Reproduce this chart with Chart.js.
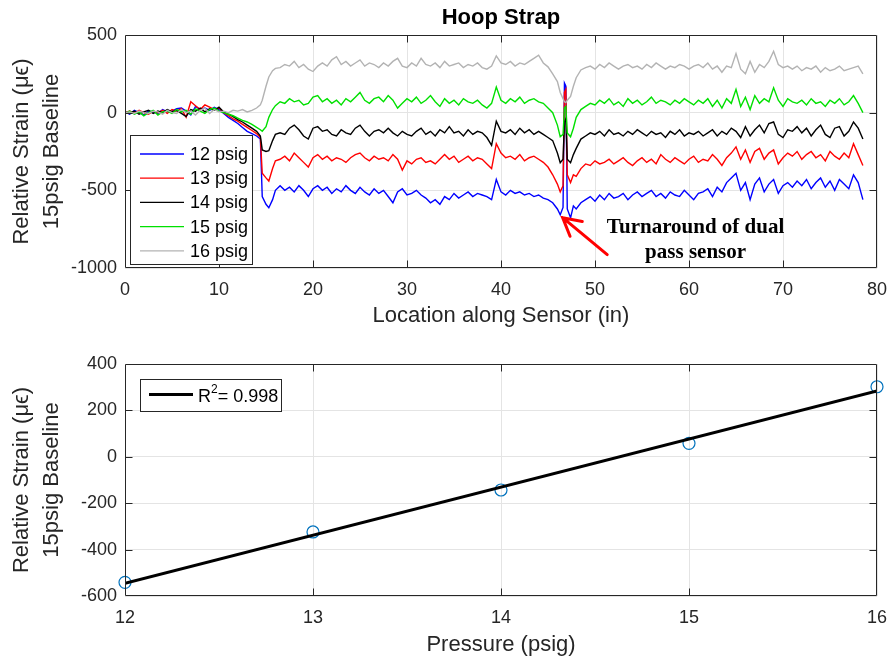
<!DOCTYPE html>
<html><head><meta charset="utf-8">
<script src="https://cdn.jsdelivr.net/npm/chart.js@4/dist/chart.umd.min.js"></script>
<style>
html,body{margin:0;padding:0;background:#fff;width:891px;height:659px;overflow:hidden;}
#c1{position:absolute;left:0;top:0;}
#c2{position:absolute;left:0;top:330px;}
</style></head><body>
<canvas id="c1" width="891" height="330"></canvas>
<canvas id="c2" width="891" height="329"></canvas>
<script>
// ---------------- DATA ----------------
const chartTitle = 'Hoop Strap';
const seriesNames = ['12 psig', '13 psig', '14 psig', '15 psig', '16 psig'];

// location along sensor (in)
const sensorLocation = [
  0,0.5,1,1.5,2,2.5,3,3.5,4,4.5,5,5.5,6,6.5,7,7.5,8,8.5,9,9.5,10,10.5,11,11.5,12,12.5,13,13.5,14,
  14.4,14.6,15,15.3,15.7,16,
  16.5,17,17.5,18,18.5,19,19.5,20,20.5,21,
  21.5,22,22.5,23,23.5,24,24.5,25,25.5,26,
  26.5,27,27.5,28,28.5,29,29.5,30,30.5,31,
  31.5,32,32.5,33,33.5,34,34.5,35,35.5,36,
  36.5,37,37.5,38,38.5,39,39.5,40,40.5,41,
  41.5,42,42.5,43,43.5,44,44.5,45,45.5,46,
  46.3,46.6,46.75,46.9,47.05,47.4,47.7,
  48,48.5,49,49.5,50,50.5,51,51.5,52,52.5,
  53,53.5,54,54.5,55,55.5,56,56.5,57,57.5,
  58,58.5,59,59.5,60,60.5,61,61.5,62,62.5,
  63,63.5,64,64.5,65,65.5,66,66.5,67,67.5,
  68,68.5,69,69.5,70,70.5,71,71.5,72,72.5,
  73,73.5,74,74.5,75,75.5,76,76.5,77,77.5,
  78,78.5
];

const strain12 = [
  5,-10,15,0,-15,10,5,-5,20,5,10,25,30,10,-15,40,20,30,15,35,20,-5,-30,-50,-70,-95,-120,-135,-150,
  -170,-540,-590,-612,-560,-500,
  -470,-500,-480,-510,-470,-500,-540,-490,-470,-500,
  -480,-520,-490,-510,-470,-500,-520,-480,-510,-530,
  -490,-520,-500,-540,-580,-510,-490,-530,-520,-500,
  -530,-550,-580,-560,-590,-540,-560,-520,-550,-530,
  -510,-540,-520,-530,-540,-560,-430,-510,-530,-500,
  -520,-510,-530,-520,-540,-530,-550,-560,-580,-620,
  -657,-610,190,170,-620,-677,-600,
  -620,-580,-560,-540,-570,-530,-560,-520,-550,-540,
  -520,-560,-530,-510,-540,-520,-500,-540,-520,-550,
  -510,-530,-540,-500,-530,-560,-520,-510,-490,-540,
  -480,-510,-450,-420,-390,-500,-450,-560,-460,-420,
  -510,-460,-430,-520,-470,-450,-480,-440,-470,-430,
  -490,-450,-420,-480,-440,-500,-430,-460,-490,-400,
  -450,-560
];

const strain13 = [
  0,10,-5,15,0,-10,10,0,15,-5,20,10,25,-30,70,45,20,50,35,20,30,0,-20,-40,-55,-75,-95,-115,-135,
  -160,-390,-420,-440,-360,-310,
  -300,-280,-310,-260,-290,-320,-350,-290,-270,-300,
  -280,-310,-290,-300,-320,-290,-270,-260,-290,-310,
  -280,-300,-290,-310,-270,-300,-370,-310,-330,-300,
  -290,-320,-310,-330,-300,-270,-300,-280,-320,-300,
  -280,-310,-290,-300,-330,-360,-200,-260,-290,-280,
  -300,-270,-310,-290,-280,-300,-320,-350,-400,-460,
  -510,-470,130,150,-400,-450,-400,
  -410,-360,-330,-340,-310,-330,-320,-300,-330,-310,
  -290,-320,-340,-310,-290,-320,-300,-330,-270,-300,
  -320,-290,-310,-330,-300,-280,-320,-300,-310,-270,
  -300,-340,-290,-260,-220,-300,-240,-320,-250,-230,
  -300,-260,-240,-330,-290,-260,-280,-250,-300,-270,
  -250,-290,-270,-310,-250,-280,-300,-260,-290,-200,
  -270,-340
];

const strain14 = [
  5,-5,10,-10,5,15,-5,10,0,20,5,15,-5,-25,20,10,30,5,25,15,35,5,-10,-25,-45,-60,-80,-100,-120,
  -150,-240,-250,-245,-180,-140,
  -130,-140,-100,-80,-110,-150,-170,-100,-90,-120,
  -110,-140,-150,-110,-130,-140,-100,-80,-120,-150,
  -120,-110,-130,-100,-130,-150,-120,-140,-150,-120,
  -100,-140,-120,-150,-110,-130,-90,-130,-120,-150,
  -110,-140,-120,-130,-160,-210,-55,-120,-130,-110,
  -140,-100,-130,-110,-140,-120,-140,-160,-180,-260,
  -322,-300,-60,-40,-300,-322,-270,
  -230,-170,-150,-130,-140,-120,-150,-110,-140,-130,
  -150,-120,-140,-110,-130,-150,-120,-140,-130,-160,
  -120,-140,-110,-150,-130,-140,-120,-150,-130,-110,
  -150,-120,-140,-100,-120,-160,-90,-150,-110,-80,
  -130,-70,-60,-140,-160,-110,-120,-90,-130,-100,
  -150,-110,-80,-140,-160,-100,-90,-150,-120,-60,
  -100,-170
];

const strain15 = [
  -5,10,-10,5,-20,0,15,-15,5,10,-5,20,5,15,-10,25,10,-5,20,30,10,0,-10,-20,-35,-50,-60,-75,-95,
  -110,-120,-90,-30,20,45,
  70,60,90,70,80,50,60,100,110,70,
  90,60,80,50,90,70,100,130,80,60,
  90,100,70,110,80,30,60,90,70,100,
  60,80,110,70,40,90,60,80,50,90,
  70,60,80,50,30,60,165,80,60,90,
  70,100,60,80,90,70,60,30,0,-80,
  -155,-140,30,40,-130,-155,-100,
  -30,20,40,60,50,80,60,90,50,70,
  40,90,60,80,50,70,100,60,80,70,
  50,80,60,90,70,50,80,60,90,40,
  80,30,90,60,150,40,100,20,110,60,
  90,70,160,80,40,90,70,60,80,50,
  90,60,70,40,80,60,90,50,70,110,
  60,0
];

const strain16 = [
  0,5,-5,10,0,-5,10,5,-10,15,0,-5,20,0,10,-15,15,30,-5,20,5,10,0,15,10,20,5,15,30,
  50,80,170,230,270,285,
  290,310,300,330,290,310,280,265,300,320,
  300,340,360,310,330,300,320,340,300,320,
  310,290,320,300,330,350,300,290,320,300,
  350,310,300,320,290,330,300,310,320,290,
  310,300,320,290,280,300,365,320,310,330,
  300,320,310,330,350,370,320,295,250,200,
  130,90,70,65,80,105,170,
  225,275,290,300,280,310,290,320,300,280,
  300,310,290,300,280,310,290,320,300,280,
  300,290,310,300,280,300,310,290,320,280,
  300,260,300,290,380,280,250,330,260,310,
  290,330,395,310,290,300,280,300,270,290,
  280,300,260,290,270,280,300,270,280,290,
  300,250
];

// bottom subplot
const pressure = [12, 13, 14, 15, 16];
const meanStrain = [-541, -324, -143, 58, 302];
const fitPressure = [12, 16];
const fitStrain = [-545, 284];
const fitLabel = ['R', '2', '= 0.998'];

// annotation (data coordinates of the top subplot)
const noteLines = ['Turnaround of dual', 'pass sensor'];
const noteTextAt = [[60.7, -740], [60.7, -900]];
const arrowTip = [46.56, -676];
const arrowTail = [51.3, -914];

// tick values
const topXTicks = [0, 10, 20, 30, 40, 50, 60, 70, 80];
const topYTicks = [-1000, -500, 0, 500];
const botXTicks = [12, 13, 14, 15, 16];
const botYTicks = [-600, -400, -200, 0, 200, 400];

// ---------------- STYLE ----------------
const seriesColors = ['#0000ff', '#ff0000', '#000000', '#00e000', '#b3b3b3'];
const SANS = '"Liberation Sans", Arial, Helvetica, sans-serif';
const AXC = '#262626';
const yTitle = ['Relative Strain (\u03bc\u03f5)', '15psig Baseline'];

function tickCb(list) {
  return function (scale) {
    scale.ticks = list.map(v => ({ value: v }));
  };
}

const framePlugin = {
  id: 'frame',
  afterDatasetsDraw(chart, args, opts) {
    const ctx = chart.ctx;
    const { left, top, right, bottom } = chart.chartArea;
    const xs = chart.scales.x, ys = chart.scales.y;
    ctx.save();
    ctx.strokeStyle = AXC;
    ctx.lineWidth = 1;
    ctx.beginPath();
    const L = Math.round(left) + 0.5, R = Math.round(right) - 0.5;
    const T = Math.round(top) + 0.5, B = Math.round(bottom) - 0.5;
    ctx.rect(L, T, R - L, B - T);
    const tl = 7;
    xs.ticks.forEach(t => {
      const p = Math.round(xs.getPixelForValue(t.value)) + 0.5;
      if (p < L + 2 || p > R - 2) return;
      ctx.moveTo(p, B); ctx.lineTo(p, B - tl);
      ctx.moveTo(p, T); ctx.lineTo(p, T + tl);
    });
    ys.ticks.forEach(t => {
      const p = Math.round(ys.getPixelForValue(t.value)) + 0.5;
      if (p < T + 2 || p > B - 2) return;
      ctx.moveTo(L, p); ctx.lineTo(L + tl, p);
      ctx.moveTo(R, p); ctx.lineTo(R - tl, p);
    });
    ctx.stroke();
    ctx.restore();
    if (opts && opts.extra) opts.extra(chart, ctx);
  }
};

function drawTop(chart, ctx) {
  const xs = chart.scales.x, ys = chart.scales.y;
  const { left, right } = chart.chartArea;
  ctx.save();
  // title
  ctx.fillStyle = '#000';
  ctx.font = 'bold 22px ' + SANS;
  ctx.textAlign = 'center';
  ctx.textBaseline = 'alphabetic';
  ctx.fillText(chartTitle, (left + right) / 2, 24);

  // legend
  const bx = 130.5, by = 135.5, bw = 122, bh = 129;
  ctx.fillStyle = '#fff';
  ctx.fillRect(bx, by, bw, bh);
  ctx.strokeStyle = AXC;
  ctx.lineWidth = 1;
  ctx.strokeRect(bx, by, bw, bh);
  ctx.font = '18px ' + SANS;
  ctx.textAlign = 'left';
  ctx.textBaseline = 'middle';
  seriesNames.forEach((name, i) => {
    const yy = 154 + i * 24.2;
    ctx.strokeStyle = seriesColors[i];
    ctx.lineWidth = 1.3;
    ctx.beginPath(); ctx.moveTo(140, yy); ctx.lineTo(184, yy); ctx.stroke();
    ctx.fillStyle = '#000';
    ctx.fillText(name, 190, yy + 1);
  });

  // annotation text
  ctx.fillStyle = '#000';
  ctx.font = 'bold 21px "Liberation Serif", "Times New Roman", serif';
  ctx.textAlign = 'center';
  noteLines.forEach((t, i) => {
    ctx.fillText(t, xs.getPixelForValue(noteTextAt[i][0]), ys.getPixelForValue(noteTextAt[i][1]));
  });

  // arrow
  const tx = xs.getPixelForValue(arrowTip[0]), ty = ys.getPixelForValue(arrowTip[1]);
  const sx = xs.getPixelForValue(arrowTail[0]), sy = ys.getPixelForValue(arrowTail[1]);
  const ang = Math.atan2(ty - sy, tx - sx);
  const hl = 20, ha = 0.5;
  ctx.strokeStyle = '#ff0000';
  ctx.lineWidth = 3;
  ctx.lineCap = 'round';
  ctx.beginPath();
  ctx.moveTo(sx, sy); ctx.lineTo(tx, ty);
  ctx.moveTo(tx - hl * Math.cos(ang - ha), ty - hl * Math.sin(ang - ha));
  ctx.lineTo(tx, ty);
  ctx.lineTo(tx - hl * Math.cos(ang + ha), ty - hl * Math.sin(ang + ha));
  ctx.stroke();
  ctx.restore();
}

function drawBottom(chart, ctx) {
  ctx.save();
  const bx = 140.5, by = 49.5, bw = 141, bh = 32;
  ctx.fillStyle = '#fff';
  ctx.fillRect(bx, by, bw, bh);
  ctx.strokeStyle = AXC;
  ctx.lineWidth = 1;
  ctx.strokeRect(bx, by, bw, bh);
  ctx.strokeStyle = '#000';
  ctx.lineWidth = 3;
  ctx.beginPath(); ctx.moveTo(149, 64.5); ctx.lineTo(193, 64.5); ctx.stroke();
  ctx.fillStyle = '#000';
  ctx.textAlign = 'left';
  ctx.textBaseline = 'alphabetic';
  ctx.font = '18px ' + SANS;
  let x = 198;
  ctx.fillText(fitLabel[0], x, 72);
  x += ctx.measureText(fitLabel[0]).width;
  ctx.font = '12px ' + SANS;
  ctx.fillText(fitLabel[1], x, 63);
  x += ctx.measureText(fitLabel[1]).width;
  ctx.font = '18px ' + SANS;
  ctx.fillText(fitLabel[2], x, 72);
  ctx.restore();
}

function axisOpts(min, max, ticks, isX, titleText, fitSize) {
  const o = {
    type: 'linear',
    min: min, max: max,
    afterBuildTicks: tickCb(ticks),
    grid: { color: '#e4e4e4', lineWidth: 1, drawTicks: false },
    border: { display: false },
    ticks: { color: AXC, font: { family: SANS, size: 18 }, padding: isX ? 11 : 8, maxRotation: 0, autoSkip: false,
             callback: (v) => String(v) },
    title: { display: true, text: titleText, color: AXC, font: { family: SANS, size: 22, lineHeight: isX ? 1.2 : 1.364 },
             padding: isX ? { top: 0, bottom: 1 } : { top: 7, bottom: 0 } },
    afterFit: (s) => {
      if (isX) s.height = fitSize; else s.width = fitSize;
      s.paddingLeft = 0; s.paddingRight = 0; s.paddingTop = 0; s.paddingBottom = 0;
    }
  };
  return o;
}

const topDatasets = [strain12, strain13, strain14, strain15, strain16].map((arr, i) => ({
  label: seriesNames[i],
  data: sensorLocation.map((x, j) => ({ x: x, y: arr[j] })),
  borderColor: seriesColors[i],
  borderWidth: 1.4,
  pointRadius: 0,
  fill: false,
  tension: 0,
  order: 5 - i
}));

new Chart(document.getElementById('c1'), {
  type: 'line',
  data: { datasets: topDatasets },
  options: {
    responsive: false,
    animation: false,
    layout: { padding: { top: 35, right: 14, left: 0, bottom: 0 } },
    scales: {
      x: axisOpts(0, 80, topXTicks, true, 'Location along Sensor (in)', 62),
      y: axisOpts(-1000, 500, topYTicks, false, yTitle, 125)
    },
    plugins: { legend: { display: false }, tooltip: { enabled: false }, frame: { extra: drawTop } }
  },
  plugins: [framePlugin]
});

new Chart(document.getElementById('c2'), {
  type: 'scatter',
  data: {
    datasets: [
      {
        label: 'fit',
        type: 'line',
        data: fitPressure.map((x, j) => ({ x: x, y: fitStrain[j] })),
        borderColor: '#000',
        borderWidth: 3,
        pointRadius: 0,
        fill: false,
        order: 1
      },
      {
        label: 'data',
        data: pressure.map((x, j) => ({ x: x, y: meanStrain[j] })),
        pointStyle: 'circle',
        pointRadius: 6,
        borderColor: '#0072bd',
        backgroundColor: 'rgba(0,0,0,0)',
        borderWidth: 1.2,
        showLine: false,
        clip: false,
        order: 2
      }
    ]
  },
  options: {
    responsive: false,
    animation: false,
    layout: { padding: { top: 34, right: 14, left: 0, bottom: 0 } },
    scales: {
      x: axisOpts(12, 16, botXTicks, true, 'Pressure (psig)', 63),
      y: axisOpts(-600, 400, botYTicks, false, yTitle, 125)
    },
    plugins: { legend: { display: false }, tooltip: { enabled: false }, frame: { extra: drawBottom } }
  },
  plugins: [framePlugin]
});
</script>
</body></html>
